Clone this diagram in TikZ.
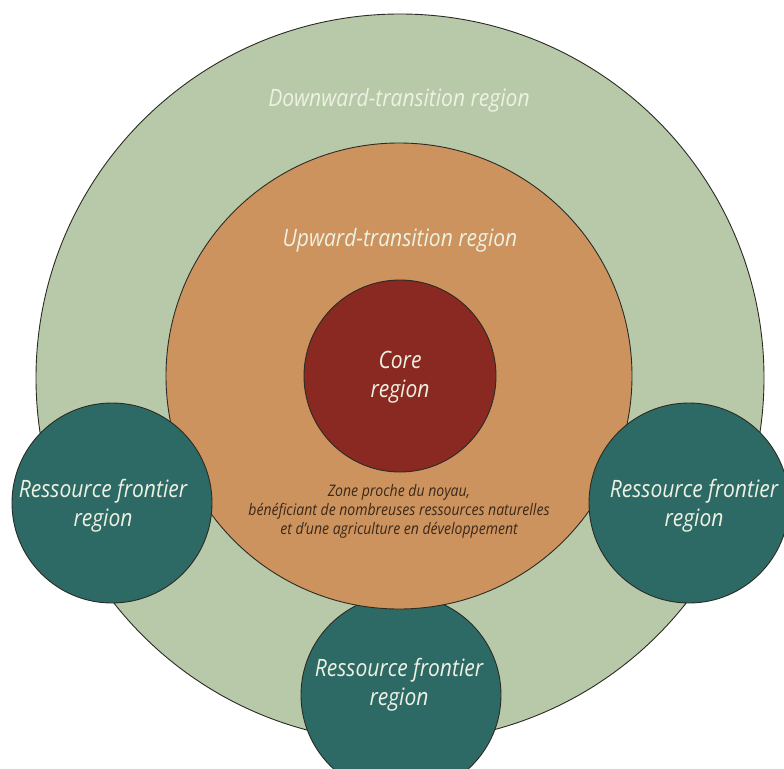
\documentclass[tikz,border=0pt]{standalone}
\usepackage{fontspec}
\setmainfont{Open Sans}[FakeStretch=0.88]
\definecolor{outerg}{HTML}{B8C9A9}
\definecolor{upor}{HTML}{CD935F}
\definecolor{corer}{HTML}{8A2822}
\definecolor{teal}{HTML}{2E6A65}
\definecolor{lighttxt}{HTML}{EEF1E2}
\definecolor{darktxt}{HTML}{3A2818}
\definecolor{edge}{HTML}{2B2B25}
\tikzset{
  disc/.style={circle, draw=edge, line width=0.9bp, inner sep=0pt},
  lbl/.style={text=lighttxt, font=\itshape\fontsize{24}{29}\selectfont, align=center, inner sep=0pt},
  small/.style={text=darktxt, font=\itshape\fontsize{16}{19}\selectfont, align=center, inner sep=0pt}
}
\begin{document}
\begin{tikzpicture}[x=1bp,y=-1bp]
\useasboundingbox[fill=white] (0,0) rectangle (784,769);
\begin{scope}
\clip (0,0) rectangle (784,769);
\node[disc, fill=outerg, minimum size=728bp] (outer) at (400,378) {};
\node[disc, fill=teal, minimum size=200bp] (bot) at (401,695) {};
\node[disc, fill=upor, minimum size=466bp] (up) at (399,376) {};
\node[disc, fill=corer, minimum size=192bp] (core) at (400,376) {};
\node[disc, fill=teal, minimum size=200bp] (left) at (112,503) {};
\node[disc, fill=teal, minimum size=200bp] (right) at (689,503) {};
\end{scope}
\node[lbl] (tdown) at (399,100) {Downward-transition region};
\node[lbl] (tup) at (400,240) {Upward-transition region};
\node[lbl] (tcore) at (400,377) {Core\\region};
\node[lbl] (tleft) at (103,506) {Ressource frontier\\region};
\node[lbl] (tright) at (694,506) {Ressource frontier\\region};
\node[lbl] (tbot) at (399,685) {Ressource frontier\\region};
\node[small] (tzone) at (399,511) {Zone proche du noyau,\\bénéficiant de nombreuses ressources naturelles\\et d’une agriculture en développement};
\end{tikzpicture}
\end{document}
